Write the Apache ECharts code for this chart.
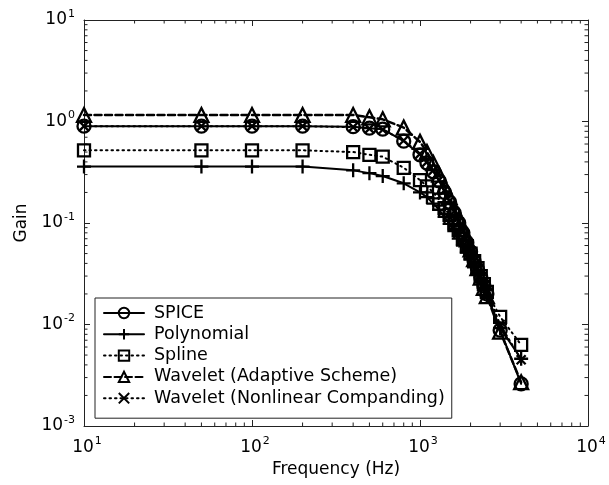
<!DOCTYPE html>
<html>
<head>
<meta charset="utf-8">
<script src="https://cdn.jsdelivr.net/npm/echarts@6/dist/echarts.min.js"></script>
<style>
  html, body { margin: 0; padding: 0; background: #fff; }
  #chart { width: 609px; height: 485px; }
</style>
</head>
<body>
<div id="chart"></div>
<script>
// Frequency points (Hz) shared by every response curve
const freqs = [10, 50, 100, 200, 400, 500, 600, 800, 1000, 1100, 1200, 1300, 1400, 1500,
  1600, 1700, 1800, 1900, 2000, 2100, 2200, 2300, 2400, 2500, 3000, 4000];

// Gain of each model at the frequencies above
const spice = [0.9, 0.9, 0.9, 0.9, 0.89, 0.86, 0.84, 0.64, 0.47, 0.39, 0.32, 0.26, 0.2, 0.16,
  0.125, 0.1, 0.08, 0.064, 0.052, 0.042, 0.035, 0.029, 0.024, 0.02, 0.0088, 0.0026];
const polynomial = [0.36, 0.36, 0.36, 0.36, 0.33, 0.31, 0.29, 0.246, 0.2, 0.18, 0.155, 0.135, 0.115, 0.098,
  0.083, 0.07, 0.06, 0.051, 0.044, 0.038, 0.032, 0.027, 0.023, 0.019, 0.0092, 0.0046];
const spline = [0.52, 0.52, 0.52, 0.52, 0.5, 0.47, 0.45, 0.35, 0.265, 0.23, 0.2, 0.17, 0.14, 0.12,
  0.1, 0.085, 0.07, 0.059, 0.05, 0.042, 0.036, 0.03, 0.025, 0.021, 0.0119, 0.0063];
const adaptive = [1.16, 1.16, 1.16, 1.16, 1.16, 1.1, 1.05, 0.87, 0.63, 0.5, 0.39, 0.3, 0.23, 0.18,
  0.14, 0.11, 0.087, 0.069, 0.055, 0.044, 0.036, 0.029, 0.023, 0.019, 0.0085, 0.0027];
const nonlinear = [0.9, 0.9, 0.9, 0.9, 0.88, 0.85, 0.83, 0.65, 0.48, 0.4, 0.33, 0.265, 0.21, 0.165,
  0.13, 0.104, 0.083, 0.066, 0.053, 0.043, 0.036, 0.03, 0.025, 0.021, 0.01, 0.0045];

const seriesNames = ['SPICE', 'Polynomial', 'Spline', 'Wavelet (Adaptive Scheme)', 'Wavelet (Nonlinear Companding)'];

// Axis ranges (decades)
const xRange = [10, 10000];
const yRange = [0.001, 10];

// Minor tick positions: 2..9 times each decade inside the ranges
const minorMultipliers = [2, 3, 4, 5, 6, 7, 8, 9];
const xDecades = [10, 100, 1000];
const yDecades = [0.001, 0.01, 0.1, 1];

const FONT = 'DejaVu Sans';
const INK = '#000';
const AXIS_INK = '#222';
const HOLLOW = 'rgba(0,0,0,0)';
const MAJOR_LEN = 6;
const MINOR_LEN = 3.5;

const PLUS = 'path://M0,-10 L0,10 M-10,0 L10,0';
const CROSS = 'path://M-10,-10 L10,10 M10,-10 L-10,10';

function pairs(ys) { return freqs.map((f, i) => [f, ys[i]]); }

function minorValues(decades) {
  const out = [];
  decades.forEach(d => minorMultipliers.forEach(m => out.push(+(d * m).toPrecision(6))));
  return out;
}

function powLabel(v) {
  const e = Math.round(Math.log10(v));
  return '{b|10}{s|' + e + '}';
}
const supStyle = { fontSize: 11, fontFamily: FONT, color: INK, padding: [0, 0, 12, 1] };
const yLabelRich = {
  b: { fontSize: 17, fontFamily: FONT, color: INK },
  s: supStyle
};
const xLabelRich = {
  b: { fontSize: 17, fontFamily: FONT, color: INK, padding: [0, 0, 0, 6] },
  s: supStyle
};

function logAxis(extra) {
  return Object.assign({
    type: 'log',
    logBase: 10,
    axisLine: { show: true, onZero: false, lineStyle: { color: AXIS_INK, width: 1 } },
    axisTick: { show: true, inside: true, length: MAJOR_LEN, lineStyle: { color: AXIS_INK, width: 1 } },
    minorTick: { show: false },
    splitLine: { show: false },
    minorSplitLine: { show: false }
  }, extra);
}

function lineSeries(name, ys, symbol, size, lineType, lineWidth) {
  return {
    name: name,
    type: 'line',
    xAxisIndex: 0,
    yAxisIndex: 0,
    data: pairs(ys),
    symbol: symbol,
    symbolSize: size,
    showAllSymbol: true,
    clip: false,
    lineStyle: { color: INK, width: lineWidth, type: lineType, cap: 'round' },
    itemStyle: { color: HOLLOW, borderColor: INK, borderWidth: 2.3 },
    emphasis: { disabled: true },
    animation: false
  };
}

// Minor ticks on the bottom and top edges, placed through the x scale
function xMinorRender(params, api) {
  const cs = params.coordSys;
  const x = api.coord([api.value(0), yRange[0]])[0];
  const style = { stroke: AXIS_INK, lineWidth: 1 };
  return {
    type: 'group',
    children: [
      { type: 'line', shape: { x1: x, y1: cs.y + cs.height, x2: x, y2: cs.y + cs.height - MINOR_LEN }, style: style },
      { type: 'line', shape: { x1: x, y1: cs.y, x2: x, y2: cs.y + MINOR_LEN }, style: style }
    ]
  };
}
// Minor ticks on the left and right edges, placed through the y scale
function yMinorRender(params, api) {
  const cs = params.coordSys;
  const y = api.coord([xRange[0], api.value(1)])[1];
  const style = { stroke: AXIS_INK, lineWidth: 1 };
  return {
    type: 'group',
    children: [
      { type: 'line', shape: { x1: cs.x, y1: y, x2: cs.x + MINOR_LEN, y2: y }, style: style },
      { type: 'line', shape: { x1: cs.x + cs.width, y1: y, x2: cs.x + cs.width - MINOR_LEN, y2: y }, style: style }
    ]
  };
}

const chart = echarts.init(document.getElementById('chart'), null, { renderer: 'canvas' });

chart.setOption({
  backgroundColor: '#fff',
  animation: false,
  textStyle: { fontFamily: FONT },
  grid: { left: 84, right: 21, top: 20, bottom: 59, containLabel: false },
  xAxis: [
    logAxis({
      min: xRange[0], max: xRange[1], position: 'bottom',
      name: 'Frequency (Hz)', nameLocation: 'middle', nameGap: 32,
      nameTextStyle: { fontSize: 17, fontFamily: FONT, color: INK },
      axisLabel: { margin: 10, formatter: powLabel, rich: xLabelRich }
    }),
    logAxis({
      min: xRange[0], max: xRange[1], position: 'top',
      axisLabel: { show: false }
    })
  ],
  yAxis: [
    logAxis({
      min: yRange[0], max: yRange[1], position: 'left',
      name: 'Gain', nameLocation: 'middle', nameGap: 52, nameRotate: 90,
      nameTextStyle: { fontSize: 17, fontFamily: FONT, color: INK },
      axisLabel: { margin: 9, formatter: powLabel, rich: yLabelRich }
    }),
    logAxis({
      min: yRange[0], max: yRange[1], position: 'right',
      axisLabel: { show: false }
    })
  ],
  legend: {
    orient: 'vertical',
    left: 95,
    top: 298,
    data: seriesNames,
    itemWidth: 40,
    itemHeight: 13,
    itemGap: 1.3,
    padding: [5, 7, 10, 8],
    borderColor: AXIS_INK,
    borderWidth: 1,
    backgroundColor: '#fff',
    selectedMode: false,
    textStyle: { fontSize: 17.5, lineHeight: 20, fontFamily: FONT, color: INK, padding: [0, 0, 0, 5] }
  },
  series: [
    lineSeries(seriesNames[0], spice, 'circle', 13, 'solid', 2),
    lineSeries(seriesNames[1], polynomial, PLUS, 14, 'solid', 2),
    lineSeries(seriesNames[2], spline, 'rect', 12, [1.5, 4], 2),
    lineSeries(seriesNames[3], adaptive, 'triangle', 14, [7, 3.5], 2.5),
    lineSeries(seriesNames[4], nonlinear, CROSS, 9, [1.5, 4], 2),
    {
      type: 'custom', name: 'x minor ticks', silent: true, z: 1,
      xAxisIndex: 0, yAxisIndex: 0,
      data: minorValues(xDecades).map(v => [v, yRange[0]]),
      renderItem: xMinorRender, animation: false
    },
    {
      type: 'custom', name: 'y minor ticks', silent: true, z: 1,
      xAxisIndex: 0, yAxisIndex: 0,
      data: minorValues(yDecades).map(v => [xRange[0], v]),
      renderItem: yMinorRender, animation: false
    }
  ]
});
</script>
</body>
</html>
